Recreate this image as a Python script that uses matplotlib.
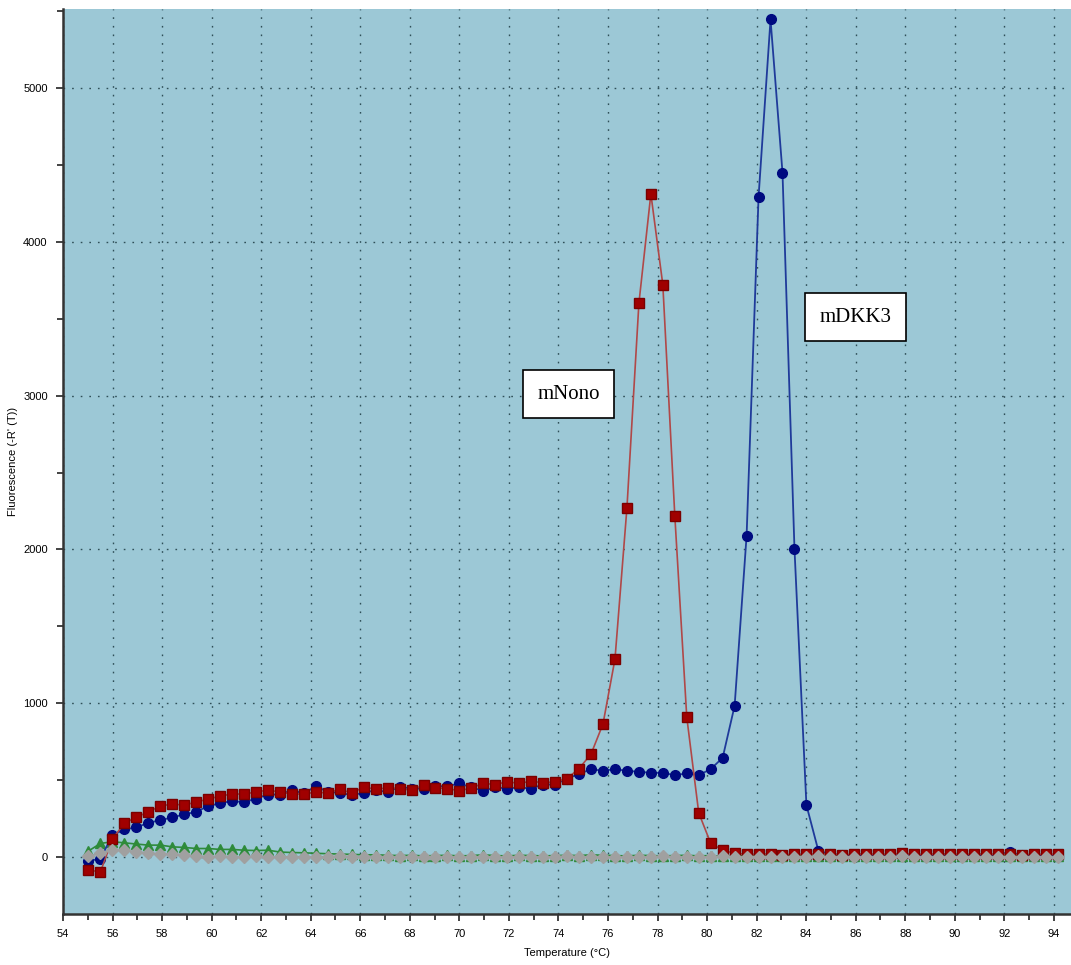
import numpy as np
import matplotlib
matplotlib.use("Agg")
import matplotlib.pyplot as plt
from matplotlib.ticker import MultipleLocator

# temperature grid of the melt curve (deg C), 82 readings
temp = 55.03 + 0.483 * np.arange(82)

# mNono (red squares)
nono = [-85, -95, 117, 220, 260, 293, 332, 345, 338, 358,
        377, 397, 410, 410, 423, 436, 423, 410, 410, 423,
        416, 442, 416, 455, 442, 450, 446, 435, 468, 450,
        446, 431, 450, 479, 472, 490, 479, 494, 483, 490,
        511, 576, 670, 866, 1287, 2270, 3600, 4311, 3720, 2220,
        910, 288, 90, 46, 24, 20, 18, 22, 15, 20,
        18, 22, 20, 15, 20, 22, 18, 20, 25, 20,
        18, 22, 20, 18, 20, 22, 18, 20, 15, 20,
        18, 20]

# mDKK3 (blue circles)
dkk3 = [-25, -10, 143, 180, 193, 223, 240, 258, 278, 294,
        332, 349, 366, 356, 381, 407, 407, 435, 414, 461,
        424, 418, 403, 418, 435, 424, 457, 446, 446, 461,
        461, 479, 453, 431, 453, 446, 453, 446, 472, 472,
        511, 540, 572, 561, 572, 561, 555, 548, 548, 533,
        544, 533, 572, 646, 984, 2089, 4292, 5445, 4450, 2006,
        338, 41, 20, 15, 10, 15, 12, 10, 15, 12,
        8, 15, 12, 10, 15, 12, 10, 35, 12, 10,
        15, 10]

# no-template control (green triangles)
ntc1 = [40, 89, 100, 93, 85, 78, 78, 67, 63, 56,
        56, 50, 50, 45, 43, 45, 33, 30, 28, 25,
        22, 20, 18, 15, 15, 12, 10, 12, 8, 10,
        12, 8, 10, 15, 10, 8, 12, 10, 8, 10,
        12, 10, 15, 12, 10, 8, 12, 10, 8, 10,
        12, 8, 10, 5, 8, 10, 5, 8, 10, 6,
        8, 5, 10, 8, 6, 8, 5, 10, 8, 6,
        8, 5, 8, 10, 6, 8, 5, 8, 6, 8,
        5, 6]

# no-template control (grey diamonds)
ntc2 = [5, 24, 45, 45, 33, 26, 20, 20, 13, 7,
        2, 5, 0, 3, 6, 2, 0, 4, 2, 0,
        3, 5, 2, 0, 4, 2, -2, 3, 0, 4,
        2, -2, 0, 3, 2, 0, 4, 2, 0, 3,
        5, 2, 0, 3, 2, -2, 0, 3, 5, 2,
        0, 3, 2, 5, 3, 0, 4, 2, 0, 3,
        2, 5, 0, 3, 2, 0, 4, 2, 5, 0,
        3, 2, 0, 4, 2, 0, 3, 2, 0, 4,
        2, 0]

fig = plt.figure(figsize=(10.71, 9.65), dpi=100)
ax = fig.add_axes([0.0588, 0.0528, 0.9412, 0.9379])
ax.set_facecolor('#9cc8d6')

ax.plot(temp, ntc1, color='#2e8b3a', lw=1.2, marker='^', ms=7,
        mfc='#2e8b3a', mec='#2e8b3a', zorder=3)
ax.plot(temp, dkk3, color='#1f3a9a', lw=1.3, marker='o', ms=7,
        mfc='#000a80', mec='#000a80', zorder=4)
ax.plot(temp, nono, color='#b04848', lw=1.2, marker='s', ms=7,
        mfc='#a00000', mec='#7a0000', zorder=5)
ax.plot(temp, ntc2, color='#9a9a9a', lw=1.0, marker='D', ms=6,
        mfc='#a0a0a0', mec='#a0a0a0', zorder=6)

ax.set_xlim(54, 94.69)
ax.set_ylim(-370, 5513)
ax.xaxis.set_major_locator(MultipleLocator(2))
ax.xaxis.set_minor_locator(MultipleLocator(1))
ax.yaxis.set_major_locator(MultipleLocator(1000))
ax.yaxis.set_minor_locator(MultipleLocator(500))

ax.grid(True, which='major', color='#2f4f58', lw=1.0, linestyle=(0, (1.2, 5)))
ax.set_axisbelow(True)

for s in ['top', 'right']:
    ax.spines[s].set_visible(False)
for s in ['left', 'bottom']:
    ax.spines[s].set_color('#333333')
    ax.spines[s].set_linewidth(1.8)

ax.tick_params(which='major', length=5, width=1.2, color='#222222',
               labelsize=8, pad=6)
ax.tick_params(which='minor', length=4, width=1.2, color='#222222')
for lab in ax.get_xticklabels() + ax.get_yticklabels():
    lab.set_family('Liberation Sans')

ax.set_xlabel('Temperature (°C)', fontsize=8, family='Liberation Sans', labelpad=6)
ax.set_ylabel("Fluorescence (-R' (T))", fontsize=8, family='Liberation Sans', labelpad=4)

box = dict(boxstyle='square,pad=0.7', fc='white', ec='black', lw=1.2)
ax.text(74.4, 3010, 'mNono', ha='center', va='center', fontsize=15,
        family='Liberation Serif', bbox=box, zorder=7)
ax.text(86.0, 3510, 'mDKK3', ha='center', va='center', fontsize=15,
        family='Liberation Serif', bbox=box, zorder=7)

fig.savefig('out.png', dpi=100)
